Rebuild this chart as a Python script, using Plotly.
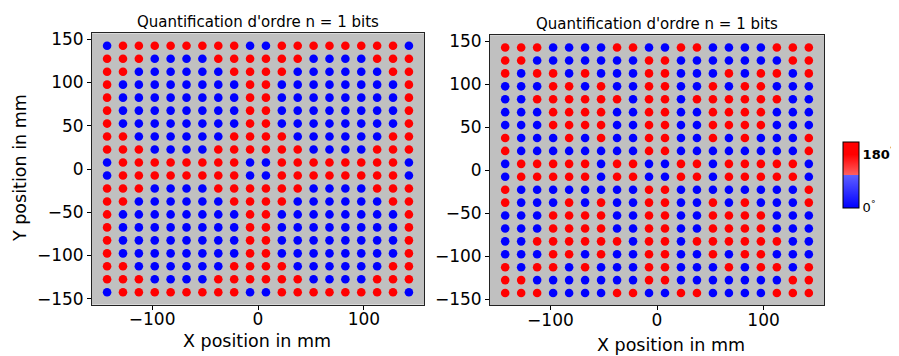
import plotly.graph_objects as go

# element centres in mm (same grid for both panels)
x_mm = [-142.5, -127.5, -112.5, -97.5, -82.5, -67.5, -52.5, -37.5, -22.5, -7.5,
        7.5, 22.5, 37.5, 52.5, 67.5, 82.5, 97.5, 112.5, 127.5, 142.5]
y_mm = [142.5, 127.5, 112.5, 97.5, 82.5, 67.5, 52.5, 37.5, 22.5, 7.5,
        -7.5, -22.5, -37.5, -52.5, -67.5, -82.5, -97.5, -112.5, -127.5, -142.5]

# quantized phase, one string per row (top row first): 1 = 180 deg, 0 = 0 deg
phase_left = [
    "01111111100111111110",
    "11100001111110000111",
    "11000000111100000011",
    "10000000011000000001",
    "10000000011000000001",
    "10000000011000000001",
    "10000000011000000001",
    "11000000111100000011",
    "11100001111110000111",
    "01111111100111111110",
    "01111111100111111110",
    "11100001111110000111",
    "11000000111100000011",
    "10000000011000000001",
    "10000000011000000001",
    "10000000011000000001",
    "10000000011000000001",
    "11000000111100000011",
    "11100001111110000111",
    "01111111100111111110",
]
phase_right = [
    "11100001100110000111",
    "11000000011000000011",
    "10110100011000101101",
    "00011010011001011000",
    "00111111011011111100",
    "00011110011001111000",
    "00011110011001111000",
    "10001010011001010001",
    "10000000011000000001",
    "01111101100110111110",
    "01111101100110111110",
    "10000000011000000001",
    "10001010011001010001",
    "00011110011001111000",
    "00011110011001111000",
    "00111111011011111100",
    "00011010011001011000",
    "10110100011000101101",
    "11000000011000000011",
    "11100001100110000111",
]
phase_values = [0, 180]
title_text = "Quantification d'ordre n = 1 bits"

# the page body has an 8px margin, so the figure is drawn 8px in from the window edge
W, H, OFF = 891, 348, 8


def px(x):
    return (x - OFF) / W


def py(y):
    return 1 - (y - OFF) / H


def grid_points(rows):
    xs, ys, cs = [], [], []
    for i, row in enumerate(rows):
        for j, ch in enumerate(row):
            xs.append(x_mm[j])
            ys.append(y_mm[i])
            cs.append(phase_values[int(ch)])
    return xs, ys, cs


cscale = [[0, "rgb(0,0,255)"], [0.5, "rgb(95,95,255)"],
          [0.5, "rgb(255,95,95)"], [0.81, "rgb(255,0,0)"], [1, "rgb(255,0,0)"]]

fig = go.Figure()
for k, rows in enumerate([phase_left, phase_right]):
    xs, ys, cs = grid_points(rows)
    fig.add_trace(go.Scatter(
        x=xs, y=ys, mode="markers",
        xaxis="x" if k == 0 else "x2", yaxis="y" if k == 0 else "y2",
        marker=dict(size=8.6, color=cs, colorscale=cscale, cmin=0, cmax=222,
                    line=dict(width=0), showscale=(k == 1),
                    colorbar=dict(
                        x=px(842.5), xanchor="left", xpad=0, ypad=0,
                        y=py(174.5), yanchor="middle",
                        len=65.6, lenmode="pixels",
                        thickness=16, thicknessmode="pixels",
                        outlinewidth=1, outlinecolor="black",
                        tickvals=phase_values,
                        ticktext=["0<sup>°</sup>", "<b>180</b><sup>°</sup>"],
                        ticks="",
                        tickfont=dict(family="DejaVu Sans", size=13, color="black"),
                    )),
        hoverinfo="skip",
    ))

axis_style = dict(range=[-156.75, 156.75], showgrid=False, zeroline=False,
                  showline=True, mirror=True, linecolor="#222", linewidth=1,
                  ticks="outside", ticklen=4, tickcolor="black", automargin=False,
                  tickfont=dict(family="DejaVu Sans", size=17, color="black"))

fig.update_layout(
    width=W, height=H,
    margin=dict(l=0, r=0, t=0, b=0, autoexpand=False),
    paper_bgcolor="white",
    plot_bgcolor="#c0c0c0",
    showlegend=False,
    xaxis=dict(axis_style, domain=[px(92), px(424)], anchor="y",
               tickvals=[-100, 0, 100], ticklabelstandoff=-5),
    yaxis=dict(axis_style, domain=[py(304.6), py(33.4)], anchor="x",
               tickvals=[-150, -100, -50, 0, 50, 100, 150]),
    xaxis2=dict(axis_style, domain=[px(490), px(824)], anchor="y2",
                tickvals=[-100, 0, 100], ticklabelstandoff=-5),
    yaxis2=dict(axis_style, domain=[py(305.3), py(35.3)], anchor="x2",
                tickvals=[-150, -100, -50, 0, 50, 100, 150]),
)

font_t = dict(family="DejaVu Sans", size=15, color="black")
font_a = dict(family="DejaVu Sans", size=17.5, color="black")
for tx, ty in [(258, 22), (657, 24)]:
    fig.add_annotation(text=title_text, x=px(tx), y=py(ty), xref="paper", yref="paper",
                       showarrow=False, font=font_t, xanchor="center", yanchor="middle")
for tx, ty in [(257, 341), (671, 345)]:
    fig.add_annotation(text="X position in mm", x=px(tx), y=py(ty), xref="paper", yref="paper",
                       showarrow=False, font=font_a, xanchor="center", yanchor="middle")
fig.add_annotation(text="Y position in mm", x=px(20), y=py(168), xref="paper", yref="paper",
                   showarrow=False, font=font_a, textangle=-90, xanchor="center", yanchor="middle")

fig.write_html("out.html")
